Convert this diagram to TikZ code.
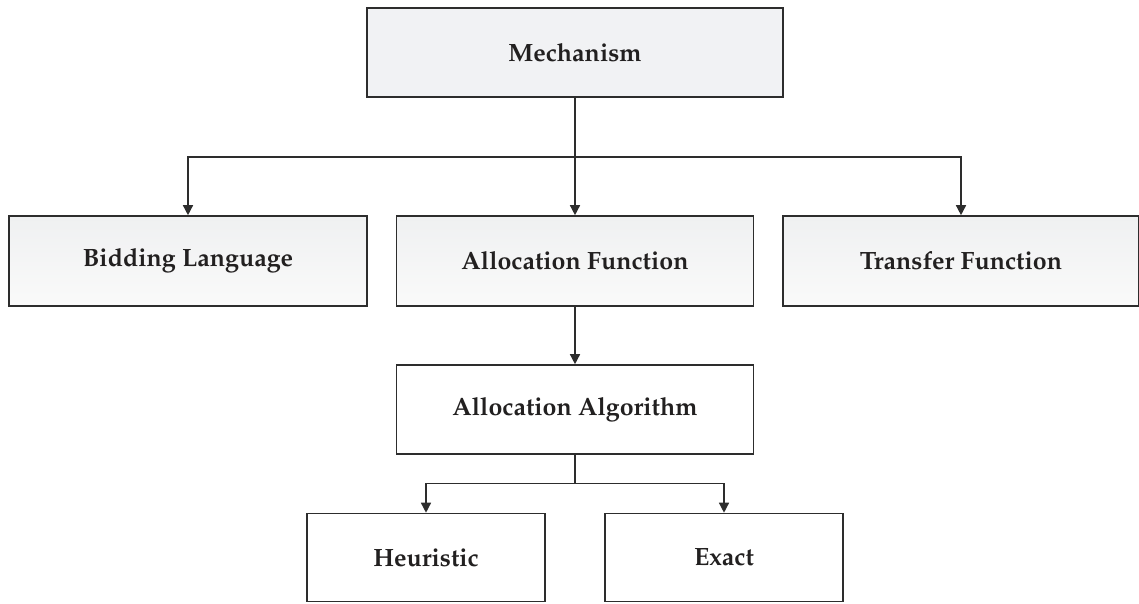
\documentclass[tikz,border=0pt]{standalone}
\usepackage[T1]{fontenc}
\usepackage{mathpazo}
\usetikzlibrary{arrows.meta}
\definecolor{boxline}{RGB}{45,45,45}
\definecolor{topfill}{RGB}{241,242,244}
\definecolor{rowtop}{RGB}{239,240,241}
\definecolor{rowbot}{RGB}{250,250,250}
\definecolor{textcol}{RGB}{34,32,32}
\tikzset{
  box/.style={draw=boxline, line width=1.6pt, inner sep=0pt, font=\fontsize{25}{29}\selectfont\bfseries, text=textcol},
  greybox/.style={box, fill=topfill},
  shadebox/.style={box, top color=rowtop, bottom color=rowbot},
  conn/.style={draw=boxline, line width=1.4pt, -{Triangle[width=10pt,length=10pt]}},
  plain/.style={draw=boxline, line width=1.4pt}
}
\begin{document}
\begin{tikzpicture}[x=1pt,y=-1pt]
\useasboundingbox (0,0) rectangle (1139,603);
\node[greybox, minimum width=416pt, minimum height=89pt] (mech) at (575,52.5) {Mechanism};
\node[shadebox, minimum width=358pt, minimum height=90pt] (bid) at (188,261) {Bidding Language};
\node[shadebox, minimum width=357pt, minimum height=90pt] (af) at (575,261) {Allocation Function};
\node[shadebox, minimum width=356pt, minimum height=90pt] (tf) at (961,261) {Transfer Function};
\node[box, fill=white, minimum width=357pt, minimum height=89pt] (aa) at (575,409.5) {Allocation Algorithm};
\node[box, fill=white, minimum width=238pt, minimum height=88pt] (heu) at (426,557.5) {Heuristic};
\node[box, fill=white, minimum width=238pt, minimum height=88pt] (ex) at (724,557.5) {Exact};
\coordinate (j1) at (575,157);
\coordinate (j2) at (575,483.5);
\draw[plain] (mech.south) -- (j1);
\draw[conn] (j1) -| (bid.north);
\draw[conn] (j1) -- (af.north);
\draw[conn] (j1) -| (tf.north);
\draw[conn] (af.south) -- (aa.north);
\draw[plain] (aa.south) -- (j2);
\draw[conn] (j2) -| (heu.north);
\draw[conn] (j2) -| (ex.north);
\end{tikzpicture}
\end{document}
